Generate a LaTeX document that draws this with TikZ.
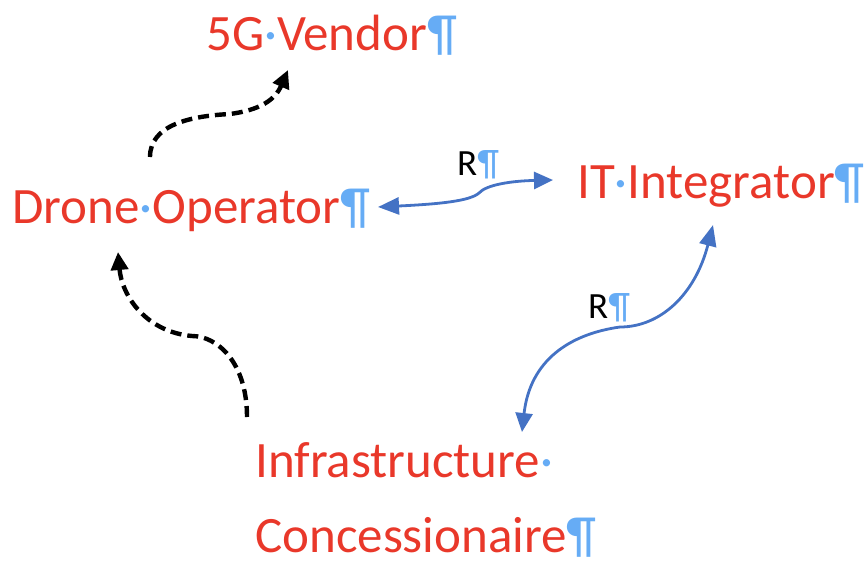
\documentclass[tikz,border=0pt]{standalone}
\usepackage{fontspec}
\setmainfont{Carlito}
\usetikzlibrary{arrows.meta}
\definecolor{rolered}{RGB}{233,56,42}
\definecolor{markblue}{RGB}{102,172,245}
\definecolor{linkblue}{RGB}{68,114,196}
\newcommand{\spc}{\textcolor{markblue}{·}}
\newcommand{\pil}{\textcolor{markblue}{¶}}
\tikzset{
  role/.style={anchor=base west,inner sep=0pt,text=rolered,font=\fontsize{51}{75}\selectfont},
  rlabel/.style={anchor=base west,inner sep=0pt,text=black,font=\fontsize{37}{40}\selectfont},
  depend/.style={black,line width=4.4pt,dash pattern=on 11pt off 6pt,-{Triangle[length=18pt,width=17pt]}},
  relate/.style={linkblue,line width=2.8pt,{Triangle[length=21pt,width=17pt]}-{Triangle[length=19pt,width=17pt]}}
}

\begin{document}
\begin{tikzpicture}[x=1pt,y=-1pt]
\useasboundingbox (0,0) rectangle (867,560);
% roles
\node[role] (vendor) at (206,50) {5G\spc Vendor\pil};
\node[role] (drone) at (12,223) {Drone\spc Operator\pil};
\node[role] (integrator) at (577,198) {IT\spc Integrator\pil};
\node[role,align=left] (infra) at (255,552) {Infrastructure\spc\\Concessionaire\pil};
% dashed links
\draw[depend] ([shift={(138,-66)}]drone.base west) .. controls +(0,-32) and +(-40,2) .. (230,114)
  .. controls +(30,-4) and +(-13,30) .. ([shift={(82,20)}]vendor.base west);
\draw[depend] ([shift={(-8,-135)}]infra.base west) .. controls +(0,-55) and +(25,0) .. (192,336)
  .. controls +(-45,-4) and +(4,45) .. ([shift={(106,29)}]drone.base west);
% R links
\draw[relate] ([shift={(366,-16)}]drone.base west) .. controls +(62,-3) and +(-9,8) .. (479,193)
  .. controls +(7,-8) and +(-43,1) .. ([shift={(-24,-18)}]integrator.base west);
\node[rlabel] (r1) at (457,175) {R\pil};
\draw[relate] ([shift={(136,27)}]integrator.base west) .. controls +(-18,70) and +(40,0) .. (620,327)
  .. controls +(-50,7) and +(8,-72) .. ([shift={(267,-120)}]infra.base west);
\node[rlabel] (r2) at (588,318) {R\pil};
\end{tikzpicture}
\end{document}
